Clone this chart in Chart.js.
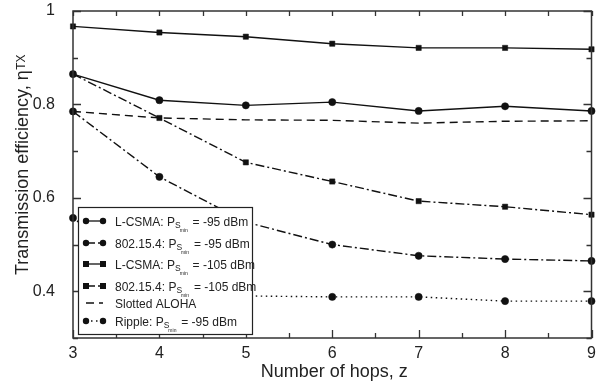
<!DOCTYPE html>
<html>
<head>
<meta charset="utf-8">
<script src="https://cdn.jsdelivr.net/npm/chart.js@4.4.0/dist/chart.umd.min.js"></script>
<style>
  html, body { margin: 0; padding: 0; background: #fff; }
</style>
</head>
<body>
<canvas id="myChart" width="596" height="389"></canvas>
<script>
// hops on the x axis
const hops = [3, 4, 5, 6, 7, 8, 9];

// transmission efficiency per series
const lcsma95 = [0.865, 0.809, 0.798, 0.805, 0.786, 0.796, 0.786];
const ieee95 = [0.785, 0.645, 0.548, 0.500, 0.476, 0.469, 0.465];
const lcsma105 = [0.967, 0.954, 0.945, 0.930, 0.921, 0.921, 0.918];
const ieee105 = [0.865, 0.771, 0.676, 0.635, 0.593, 0.581, 0.564];
const aloha = [0.785, 0.771, 0.767, 0.766, 0.760, 0.764, 0.765];
const ripple = [0.557, 0.420, 0.390, 0.388, 0.388, 0.379, 0.379];

// legend text, split round the P_S_min subscript
const legendPrefix = ['L-CSMA: P', '802.15.4: P', 'L-CSMA: P', '802.15.4: P', 'Slotted ALOHA', 'Ripple: P'];
const legendSuffix = [' = -95 dBm', ' = -95 dBm', ' = -105 dBm', ' = -105 dBm', null, ' = -95 dBm'];

// y tick labels that are printed
const yLabels = ['0.4', '0.6', '0.8', '1'];

const FONT = '"Liberation Sans", Arial, sans-serif';
const INK = '#111';
const DASHDOT = [9, 3, 2, 3];

const toPoints = (arr) => hops.map((x, i) => ({ x: x, y: arr[i] }));

const makeSet = (label, arr, style, dash, show) => ({
    label: label,
    data: toPoints(arr),
    borderColor: INK,
    backgroundColor: INK,
    borderWidth: 1.4,
    borderDash: dash,
    pointStyle: style,
    pointRadius: show ? (style === 'rect' ? 3.7 : 3.6) : 0,
    pointBackgroundColor: INK,
    pointBorderColor: INK,
    pointBorderWidth: 0.5,
    tension: 0,
    clip: false,
});

const datasets = [
    makeSet('lcsma95', lcsma95, 'circle', [], true),
    makeSet('ieee95', ieee95, 'circle', DASHDOT, true),
    makeSet('lcsma105', lcsma105, 'rect', [], true),
    makeSet('ieee105', ieee105, 'rect', DASHDOT, true),
    makeSet('aloha', aloha, 'circle', [8, 5], false),
    makeSet('ripple', ripple, 'circle', [1.5, 3.5], true),
];

// frame, inward ticks, legend and axis titles
const decorPlugin = {
    id: 'decor',
    afterDraw(chart) {
        const ctx = chart.ctx;
        const a = chart.chartArea;
        const xs = chart.scales.x;
        const ys = chart.scales.y;
        ctx.save();

        // ticks
        ctx.strokeStyle = '#333';
        ctx.lineWidth = 1.3;
        ctx.beginPath();
        for (let k = 6; k <= 18; k++) {
            const px = Math.round(xs.getPixelForValue(k / 2)) + 0.5;
            const major = k % 2 === 0;
            ctx.moveTo(px, a.bottom); ctx.lineTo(px, a.bottom - (major ? 8 : 5));
            ctx.moveTo(px, a.top); ctx.lineTo(px, a.top + 5);
        }
        for (let k = 3; k <= 10; k++) {
            const py = Math.round(ys.getPixelForValue(k / 10)) + 0.5;
            const major = k % 2 === 0;
            const len = major ? 8 : 5;
            ctx.moveTo(a.left, py); ctx.lineTo(a.left + len, py);
            ctx.moveTo(a.right, py); ctx.lineTo(a.right - len, py);
        }
        ctx.stroke();

        // legend box
        const lx = 78, ly = 207, lw = 174, lh = 127;
        ctx.fillStyle = '#fff';
        ctx.fillRect(lx, ly, lw, lh);
        ctx.strokeStyle = '#222';
        ctx.lineWidth = 1.2;
        ctx.strokeRect(lx + 0.5, ly + 0.5, lw, lh);

        const rows = [221, 243, 264, 286, 303, 321];
        rows.forEach((ry, i) => {
            const ds = datasets[i];
            ctx.strokeStyle = INK;
            ctx.fillStyle = INK;
            ctx.lineWidth = 1.3;
            ctx.setLineDash(ds.borderDash);
            ctx.beginPath();
            ctx.moveTo(86, ry); ctx.lineTo(103, ry);
            ctx.stroke();
            ctx.setLineDash([]);
            if (ds.pointRadius > 0) {
                [86, 103].forEach((mx) => {
                    if (ds.pointStyle === 'rect') {
                        ctx.fillRect(mx - 3, ry - 3, 6, 6);
                    } else {
                        ctx.beginPath();
                        ctx.arc(mx, ry, 3.2, 0, Math.PI * 2);
                        ctx.fill();
                    }
                });
            }
            // label
            ctx.fillStyle = '#222';
            ctx.textBaseline = 'alphabetic';
            ctx.textAlign = 'left';
            const base = ry + 4.5;
            let tx = 115;
            ctx.font = '12px ' + FONT;
            ctx.fillText(legendPrefix[i], tx, base);
            tx += ctx.measureText(legendPrefix[i]).width;
            if (legendSuffix[i] !== null) {
                ctx.font = '8.5px ' + FONT;
                ctx.fillText('S', tx, base + 2.8);
                const sw = ctx.measureText('S').width;
                ctx.font = '5px ' + FONT;
                ctx.fillText('min', tx + sw - 1, base + 6);
                tx += sw - 1 + ctx.measureText('min').width + 1.5;
                ctx.font = '12px ' + FONT;
                ctx.fillText(legendSuffix[i], tx, base);
            }
        });

        // axis frame
        ctx.strokeStyle = '#333';
        ctx.lineWidth = 1.5;
        ctx.strokeRect(a.left, a.top, a.right - a.left, a.bottom - a.top);

        // x title
        ctx.fillStyle = '#222';
        ctx.font = '18px ' + FONT;
        ctx.textAlign = 'center';
        ctx.textBaseline = 'middle';
        ctx.fillText('Number of hops, z', (a.left + a.right) / 2 + 2, 372);

        // y title, rotated, with TX after eta
        ctx.translate(28, 0);
        ctx.rotate(-Math.PI / 2);
        ctx.textAlign = 'left';
        ctx.textBaseline = 'alphabetic';
        const main = 'Transmission efficiency, \u03B7';
        ctx.font = '18px ' + FONT;
        const mw = ctx.measureText(main).width;
        ctx.font = '12px ' + FONT;
        const sw2 = ctx.measureText('TX').width;
        const endX = -55;
        const startX = endX - mw - sw2;
        ctx.font = '18px ' + FONT;
        ctx.fillText(main, startX, 0);
        ctx.font = '12px ' + FONT;
        ctx.fillText('TX', startX + mw + 0.5, -3);

        ctx.restore();
    }
};

const config = {
    type: 'line',
    data: { datasets: datasets },
    options: {
        responsive: false,
        animation: false,
        devicePixelRatio: 1,
        layout: { padding: { top: 11, right: 4, left: 0, bottom: 0 } },
        plugins: {
            legend: { display: false },
            tooltip: { enabled: false },
        },
        scales: {
            x: {
                type: 'linear',
                min: 3,
                max: 9,
                grid: { display: false },
                border: { display: false },
                ticks: {
                    stepSize: 1,
                    padding: -2,
                    color: '#222',
                    font: { family: FONT, size: 16 },
                },
                afterFit: (scale) => {
                    scale.height = 51;
                    scale.paddingLeft = 0;
                    scale.paddingRight = 0;
                },
            },
            y: {
                min: 0.3,
                max: 1,
                grid: { display: false },
                border: { display: false },
                ticks: {
                    stepSize: 0.1,
                    padding: 10,
                    color: '#222',
                    font: { family: FONT, size: 16 },
                    callback: (v) => {
                        const k = Math.round(v * 10);
                        const txt = k === 10 ? '1' : (k / 10).toFixed(1);
                        return yLabels.includes(txt) ? txt : '';
                    },
                },
                afterFit: (scale) => {
                    scale.width = 73;
                    scale.paddingTop = 0;
                    scale.paddingBottom = 0;
                },
            },
        },
    },
    plugins: [decorPlugin],
};

new Chart(document.getElementById('myChart'), config);
</script>
</body>
</html>
